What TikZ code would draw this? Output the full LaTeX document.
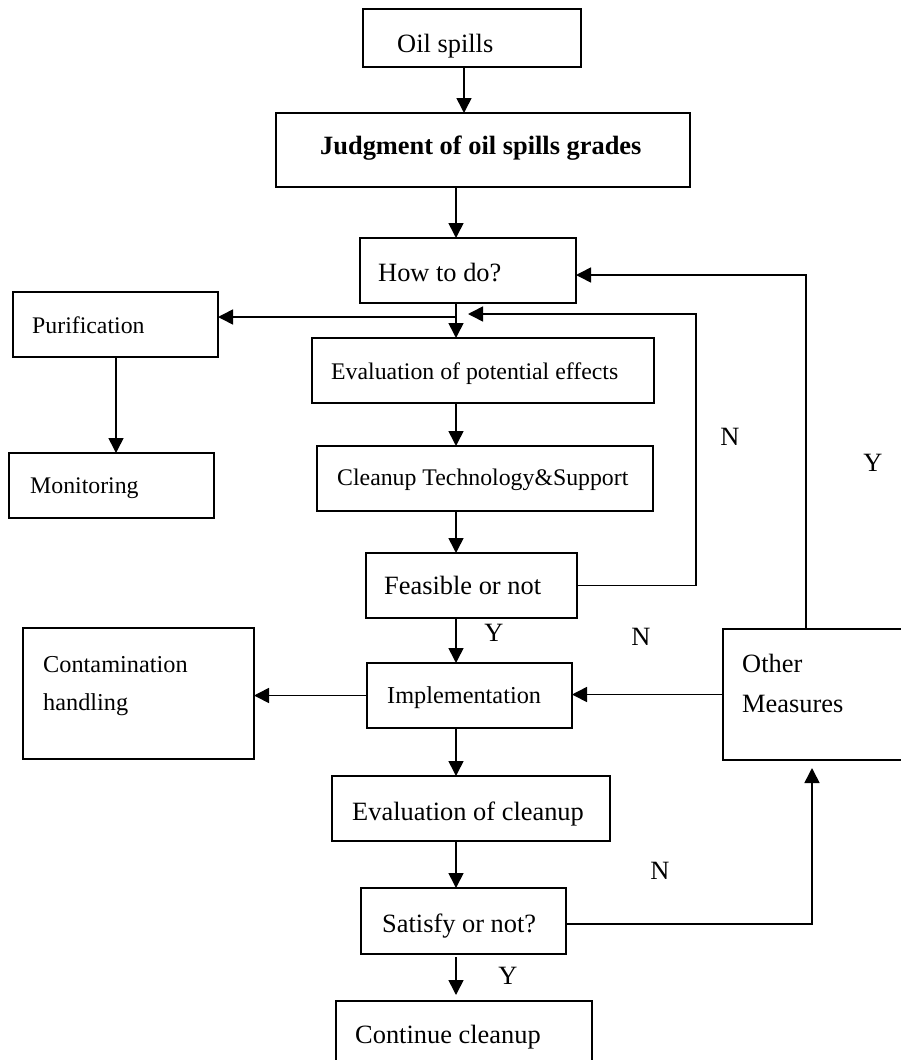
\documentclass[tikz,border=0pt]{standalone}
\usepackage{fontspec}
\setmainfont{Liberation Serif}
\usetikzlibrary{arrows.meta,calc}
\begin{document}
\begin{tikzpicture}[x=1pt,y=-1pt,
  box/.style={draw, line width=1.6pt, rectangle, inner sep=0pt, outer sep=0pt},
  arr/.style={line width=1.6pt, -{Triangle[length=15pt,width=15pt]}},
  big/.style={inner sep=0pt, anchor=base west, font=\fontsize{26.4}{30}\selectfont},
  mid/.style={inner sep=0pt, anchor=base west, font=\fontsize{24.3}{29}\selectfont},
  small/.style={inner sep=0pt, anchor=base west, font=\fontsize{23.8}{28}\selectfont},
  lbl/.style={inner sep=0pt, font=\fontsize{26.4}{30}\selectfont}]
\newcommand\flowbox[5]{%
  \node[box, minimum width={(#4-#2)*1pt}, minimum height={(#5-#3)*1pt}]
    (#1) at ({(#2+#4)/2},{(#3+#5)/2}) {};}
\useasboundingbox (0,0) rectangle (901,1060);
\clip (0,0) rectangle (901,1060);

% boxes
\flowbox{oil}{363}{9}{581}{67}
\flowbox{judg}{276}{113}{690}{187}
\flowbox{how}{360}{238}{576}{303}
\flowbox{pur}{13}{292}{218}{357}
\flowbox{evp}{312}{338}{654}{403}
\flowbox{mon}{9}{453}{214}{518}
\flowbox{cln}{317}{446}{653}{511}
\flowbox{feas}{366}{553}{577}{618}
\flowbox{con}{23}{628}{254}{759}
\flowbox{impl}{367}{663}{572}{728}
\flowbox{oth}{723}{629}{910}{760}
\flowbox{evc}{332}{776}{610}{841}
\flowbox{sat}{361}{888}{566}{954}
\flowbox{cont}{336}{1001}{592}{1070}

% box texts
\node[big] (oilT) at (397,52) {Oil spills};
\node[big, font=\fontsize{26.4}{30}\selectfont\bfseries] (judgT) at (320,154) {Judgment of oil spills grades};
\node[big] (howT) at (378,281) {How to do?};
\node[small] (purT) at (32,333) {Purification};
\node[small] (evpT) at (331,379) {Evaluation of potential effects};
\node[small] (monT) at (30,493) {Monitoring};
\node[small] (clnT) at (337,485) {Cleanup Technology\&Support};
\node[big] (feasT) at (384,594) {Feasible or not};
\node[mid] (conTa) at (43,672) {Contamination};
\node[mid] (conTb) at (43,710) {handling};
\node[mid] (implT) at (387,703) {Implementation};
\node[big] (othTa) at (742,672) {Other};
\node[big] (othTb) at (742,712) {Measures};
\node[big] (evcT) at (352,820) {Evaluation of cleanup};
\node[big] (satT) at (382,932) {Satisfy or not?};
\node[big] (contT) at (355,1043) {Continue cleanup};

% branch labels
\node[lbl] (n1) at (730,437) {N};
\node[lbl] (y1) at (873,463) {Y};
\node[lbl] (y2) at (494,633) {Y};
\node[lbl] (n2) at (641,637) {N};
\node[lbl] (n3) at (660,871) {N};
\node[lbl] (y3) at (508,976) {Y};

% guide coordinates
\coordinate (cA) at (464,0);
\coordinate (cB) at (456,0);
\coordinate (cM) at (116,0);
\coordinate (jP) at (456,317);
\coordinate (nC) at (696,314);
\coordinate (nTip) at (468,314);
\coordinate (yC) at (806,275);
\coordinate (sC) at (812,924);
\coordinate (upTip) at (812,768);

% main flow
\draw[arr] (oil.south -| cA) -- (judg.north -| cA);
\draw[arr] (judg.south -| cB) -- (how.north -| cB);
\draw[arr] (how.south -| cB) -- (evp.north -| cB);
\draw[arr] (jP) -- (pur.east |- jP);
\draw[arr] (pur.south -| cM) -- (mon.north -| cM);
\draw[arr] (evp.south -| cB) -- (cln.north -| cB);
\draw[arr] (cln.south -| cB) -- (feas.north -| cB);
\draw[arr] (feas.south -| cB) -- (impl.north -| cB);
\draw[arr] (impl.south -| cB) -- (evc.north -| cB);
\draw[arr] (evc.south -| cB) -- (sat.north -| cB);
\draw[arr, shorten <=3pt, shorten >=6pt] (sat.south -| cB) -- (cont.north -| cB);

% loops and side branches
\draw[arr] (feas.east) -| (nC) -- (nTip);
\draw[arr] (oth.north -| yC) |- (how.east |- yC);
\draw[arr] (oth.west) -- (impl.east |- oth.west);
\draw[arr] (impl.west) -- (con.east |- impl.west);
\draw[arr] (sat.east |- sC) -| (upTip);
\end{tikzpicture}
\end{document}
